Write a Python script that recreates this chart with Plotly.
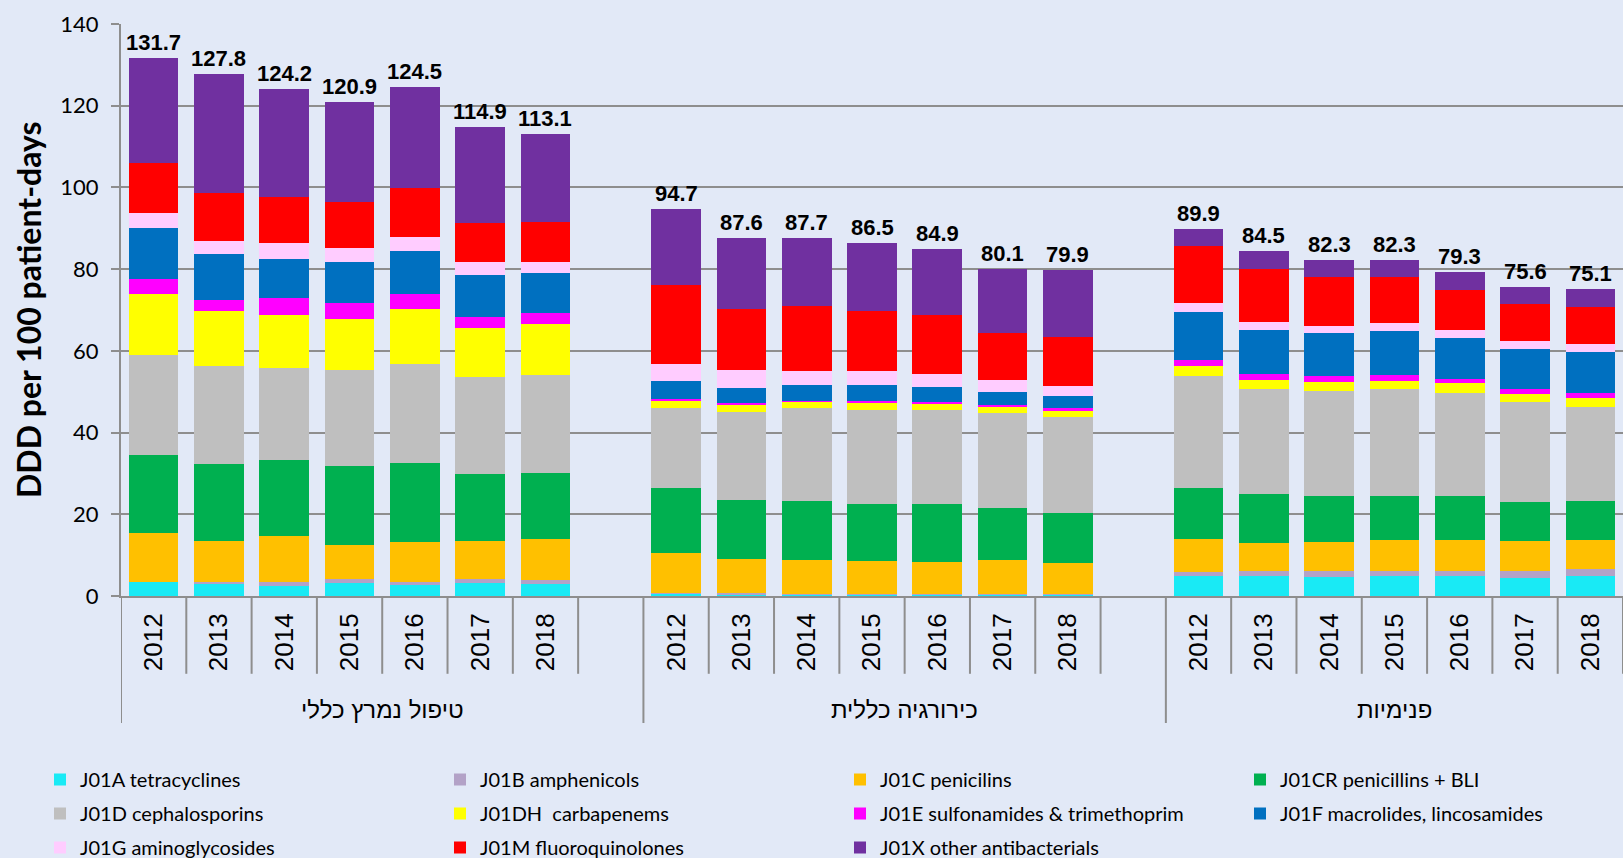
import plotly.graph_objects as go

# ---------------- data ----------------
groups = ["טיפול נמרץ כללי", "כירורגיה כללית", "פנימיות"]
years = ["2012", "2013", "2014", "2015", "2016", "2017", "2018"]
y_title = "DDD per 100 patient-days"

# order within each list: group1 2012..2018, group2 2012..2018, group3 2012..2018
j01a_tetracyclines = [3.5, 3.0, 2.5, 3.3, 2.8, 3.2, 2.9,
                      0.7, 0.4, 0.3, 0.3, 0.3, 0.3, 0.3,
                      5.0, 4.8, 4.7, 4.8, 4.8, 4.5, 4.9]
j01b_amphenicols = [0.0, 0.5, 0.9, 0.9, 0.7, 0.9, 1.0,
                    0.1, 0.3, 0.1, 0.1, 0.1, 0.1, 0.1,
                    0.8, 1.2, 1.3, 1.4, 1.4, 1.5, 1.6]
j01c_penicillins = [11.9, 9.9, 11.3, 8.3, 9.7, 9.3, 10.0,
                    9.8, 8.3, 8.4, 8.2, 7.9, 8.3, 7.8,
                    8.2, 7.0, 7.1, 7.6, 7.5, 7.4, 7.3]
j01cr_penicillins_bli = [19.1, 18.9, 18.5, 19.2, 19.3, 16.4, 16.2,
                         15.8, 14.4, 14.5, 13.8, 14.2, 12.8, 12.2,
                         12.5, 11.9, 11.4, 10.7, 10.7, 9.7, 9.5]
j01d_cephalosporins = [24.4, 23.9, 22.6, 23.7, 24.4, 23.7, 24.1,
                       19.7, 21.7, 22.6, 23.2, 23.1, 23.2, 23.3,
                       27.4, 25.7, 25.7, 26.1, 25.4, 24.3, 23.0]
j01dh_carbapenems = [15.0, 13.5, 13.0, 12.4, 13.3, 12.0, 12.3,
                     1.7, 1.7, 1.6, 1.7, 1.5, 1.6, 1.7,
                     2.4, 2.3, 2.2, 2.0, 2.3, 2.0, 2.2]
j01e_sulfonamides = [3.8, 2.8, 4.1, 3.9, 3.6, 2.7, 2.7,
                     0.5, 0.5, 0.3, 0.5, 0.5, 0.4, 0.5,
                     1.4, 1.5, 1.4, 1.4, 1.0, 1.2, 1.3]
j01f_macrolides = [12.4, 11.1, 9.7, 10.0, 10.6, 10.3, 9.9,
                   4.4, 3.7, 3.9, 3.9, 3.6, 3.3, 3.0,
                   11.8, 10.6, 10.6, 10.9, 10.1, 9.8, 9.8]
j01g_aminoglycosides = [3.7, 3.4, 3.8, 3.5, 3.5, 3.3, 2.6,
                        4.1, 4.4, 3.3, 3.3, 3.2, 2.8, 2.6,
                        2.1, 2.0, 1.7, 1.8, 1.8, 2.0, 2.2]
j01m_fluoroquinolones = [12.3, 11.6, 11.2, 11.3, 11.9, 9.4, 9.9,
                         19.4, 14.8, 16.1, 14.8, 14.3, 11.5, 12.0,
                         14.0, 13.1, 11.9, 11.3, 10.0, 9.0, 9.0]
j01x_other = [25.6, 29.2, 26.6, 24.4, 24.7, 23.7, 21.5,
              18.5, 17.4, 16.6, 16.7, 16.2, 15.8, 16.4,
              4.3, 4.4, 4.3, 4.3, 4.3, 4.2, 4.3]

totals = [131.7, 127.8, 124.2, 120.9, 124.5, 114.9, 113.1,
          94.7, 87.6, 87.7, 86.5, 84.9, 80.1, 79.9,
          89.9, 84.5, 82.3, 82.3, 79.3, 75.6, 75.1]

series_names = ["J01A tetracyclines", "J01B amphenicols", "J01C penicilins",
                "J01CR penicillins + BLI", "J01D cephalosporins", "J01DH  carbapenems",
                "J01E sulfonamides & trimethoprim", "J01F macrolides, lincosamides",
                "J01G aminoglycosides", "J01M fluoroquinolones", "J01X other antibacterials"]
series_values = [j01a_tetracyclines, j01b_amphenicols, j01c_penicillins,
                 j01cr_penicillins_bli, j01d_cephalosporins, j01dh_carbapenems,
                 j01e_sulfonamides, j01f_macrolides, j01g_aminoglycosides,
                 j01m_fluoroquinolones, j01x_other]
series_colors = ["#19EAF5", "#B3A2C7", "#FFC000", "#00B050", "#BFBFBF", "#FFFF00",
                 "#FF00FF", "#0070C0", "#FFCCFF", "#FF0000", "#7030A0"]

# ---------------- layout helpers ----------------
SLOTS = 8  # 7 years + one empty slot per group
xpos = [g * SLOTS + j for g in range(len(groups)) for j in range(len(years))]
xticktext = [y for _ in groups for y in years]

BG = "#E2E9F7"
GRID = "#8E8E8E"
LEGEND_FONT = dict(family="Lato, Carlito, sans-serif", size=20, color="black")
N_COLS = 4
legend_ids = ["legend", "legend2", "legend3", "legend4"]
legend_left_px = 40
legend_col_px = 400
legend_top_px = 760

fig = go.Figure()
for i, (name, vals, color) in enumerate(zip(series_names, series_values, series_colors)):
    fig.add_trace(go.Bar(x=xpos, y=vals, name=name, width=0.76,
                         legend=legend_ids[i % N_COLS], legendgroup=name,
                         marker=dict(color=color, line=dict(width=0))))

# totals on top of bars
for xv, t in zip(xpos, totals):
    fig.add_annotation(x=xv, y=t, text=f"<b>{t:.1f}</b>", showarrow=False,
                       yanchor="bottom", yshift=1,
                       font=dict(family="Liberation Sans, Arial", size=22, color="black"))

# group labels
group_centers = [3.5, 11.5, 19]
for gx, gname in zip(group_centers, groups):
    fig.add_annotation(x=gx, y=-0.199, xref="x", yref="paper", text=gname,
                       showarrow=False, yanchor="middle",
                       font=dict(family="Liberation Sans, Arial", size=24, color="black"))

# y-axis title (as annotation so it stays beside the axis)
fig.add_annotation(x=0, y=0.5, xref="paper", yref="paper", text=f"<b>{y_title}</b>",
                   textangle=-90, showarrow=False, xanchor="center", yanchor="middle",
                   xshift=-93,
                   font=dict(family="Lato, Carlito, sans-serif", size=32, color="black"))

# category separators below the axis
shapes = []
n_slots = SLOTS * len(groups) - 1
for k in range(n_slots + 1):
    b = k - 0.5
    long_line = (k % SLOTS == 0)
    shapes.append(dict(type="line", xref="x", yref="paper", x0=b, x1=b,
                       y0=0, y1=(-0.222 if long_line else -0.136),
                       line=dict(color=GRID, width=2)))

W, H = 1623, 858
legend_layouts = {}
for c, lid in enumerate(legend_ids):
    legend_layouts[lid] = dict(orientation="v", traceorder="grouped", tracegroupgap=5,
                               xref="container", yref="container",
                               x=(legend_left_px + c * legend_col_px) / W,
                               y=1 - legend_top_px / H,
                               xanchor="left", yanchor="top",
                               font=LEGEND_FONT, bgcolor="rgba(0,0,0,0)")

fig.update_layout(
    width=W, height=H,
    margin=dict(l=121, r=0, t=24, b=262, autoexpand=False),
    paper_bgcolor=BG, plot_bgcolor=BG,
    barmode="stack",
    shapes=shapes,
    showlegend=True,
    xaxis=dict(range=[-0.5, n_slots - 0.5], tickmode="array", tickvals=xpos,
               ticktext=xticktext, tickangle=-90, ticks="", showgrid=False,
               zeroline=False, showline=True, linecolor=GRID, linewidth=2,
               ticklabelstandoff=5,
               tickfont=dict(family="Liberation Sans, Arial", size=26, color="black")),
    yaxis=dict(range=[0, 140], dtick=20, tick0=0, ticks="outside", ticklen=8,
               tickcolor=GRID, tickwidth=2, showline=True, linecolor=GRID, linewidth=2,
               showgrid=True, gridcolor=GRID, gridwidth=1.6, zeroline=False,
               ticklabelstandoff=8,
               tickfont=dict(family="Lato, Carlito, sans-serif", size=22, color="black")),
    **legend_layouts,
)

fig.write_html("out.html", config={"displayModeBar": False},
               post_script="document.body.style.margin='0';")
